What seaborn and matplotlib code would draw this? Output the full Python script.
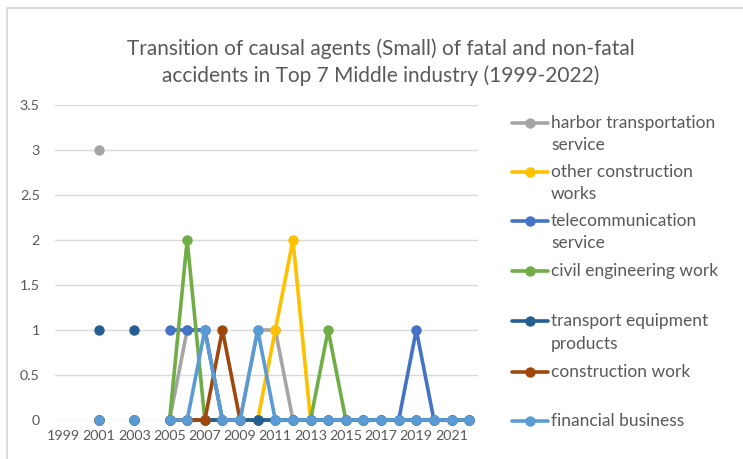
import numpy as np
import pandas as pd
import seaborn as sns
import matplotlib.pyplot as plt
from matplotlib.lines import Line2D
from matplotlib.patches import Rectangle

n = np.nan
years = list(range(1999, 2023))
#            1999 2000 2001 2002 2003 2004 2005 06 07 08 09 10 11 12 13 14 15 16 17 18 19 20 21 22
harbor    = [n, n, 3, n, 0, n, 0, 1, 1, 0, 0, 1, 1, 0, 0, 0, 0, 0, 0, 0, 0, 0, 0, 0]
other_con = [n, n, 0, n, 0, n, 0, 0, 0, 0, 0, 0, 1, 2, 0, 0, 0, 0, 0, 0, 0, 0, 0, 0]
telecom   = [n, n, 0, n, 0, n, 1, 1, 1, 0, 0, 0, 0, 0, 0, 0, 0, 0, 0, 0, 1, 0, 0, 0]
civil     = [n, n, 0, n, 0, n, 0, 2, 0, 0, 0, 0, 0, 0, 0, 1, 0, 0, 0, 0, 0, 0, 0, 0]
transport = [n, n, 1, n, 1, n, 0, 0, 0, 0, 0, 0, 0, 0, 0, 0, 0, 0, 0, 0, 0, 0, 0, 0]
constr    = [n, n, 0, n, 0, n, 0, 0, 0, 1, 0, n, n, n, n, n, n, n, n, n, n, n, n, n]
financial = [n, n, 0, n, 0, n, 0, 0, 1, 0, 0, 1, 0, 0, 0, 0, 0, 0, 0, 0, 0, 0, 0, 0]

series_names = ["harbor transportation\nservice", "other construction\nworks",
                "telecommunication\nservice", "civil engineering work",
                "transport equipment\nproducts", "construction work", "financial business"]
series_vals = [harbor, other_con, telecom, civil, transport, constr, financial]
colors = ["#A5A5A5", "#FFC000", "#4472C4", "#70AD47", "#255E91", "#9E480E", "#5B9BD5"]
tick_years = list(range(1999, 2022, 2))
y_ticks = [0, 0.5, 1, 1.5, 2, 2.5, 3, 3.5]
y_labels = ["0", "0.5", "1", "1.5", "2", "2.5", "3", "3.5"]

rows = []
for name, vals in zip(series_names, series_vals):
    seg = 0
    prev_nan = True
    for y, v in zip(years, vals):
        if np.isnan(v):
            prev_nan = True
            continue
        if prev_nan:
            seg += 1
        prev_nan = False
        rows.append(dict(series=name, year=y, value=v, seg=seg))
df = pd.DataFrame(rows)

sns.set_style("white")
plt.rcParams['font.family'] = ['Lato', 'DejaVu Sans']

fig = plt.figure(figsize=(7.43, 4.59), dpi=100)
ax = fig.add_axes([55/743, 1-420/459, (478-55)/743, (420-105)/459])

sns.lineplot(data=df, x="year", y="value", hue="series", units="seg", estimator=None,
             hue_order=series_names, palette=colors, marker="o", markersize=7.5,
             markeredgewidth=0, linewidth=2.6, legend=False, ax=ax, clip_on=False)

ax.set_xlim(1998.5, 2022.5)
ax.set_ylim(0, 3.5)
ax.set_yticks(y_ticks)
ax.set_yticklabels(y_labels)
ax.set_xticks(tick_years)
ax.set_xticklabels([str(t) for t in tick_years])
ax.tick_params(axis="both", colors="#595959", labelsize=10.3, length=0)
ax.tick_params(axis="x", pad=7)
ax.tick_params(axis="y", pad=11)
ax.yaxis.grid(True, color="#D9D9D9", linewidth=1)
ax.set_axisbelow(True)
for s in ["top", "right", "left", "bottom"]:
    ax.spines[s].set_visible(False)
ax.set_xlabel("")
ax.set_ylabel("")

fig.text(381/743, 1-62/459, "Transition of causal agents (Small) of fatal and non-fatal\naccidents in Top 7 Middle industry (1999-2022)",
         ha="center", va="center", fontsize=15, color="#595959", linespacing=1.4)

# chart border (only top/left visible in crop)
fig.add_artist(Rectangle((7.5/743, -0.1), 1.2, 1 - 7.5/459 + 0.1, transform=fig.transFigure,
                         fill=False, edgecolor="#D9D9D9", linewidth=1.3))

# legend (Excel style)
ys = [123, 172, 221, 271, 321, 372, 421]
for name, c, y in zip(series_names, colors, ys):
    fy = 1 - y/459
    fig.add_artist(Line2D([512/743, 548/743], [fy, fy], color=c, linewidth=2.6,
                          transform=fig.transFigure))
    fig.add_artist(Line2D([530/743], [fy], color=c, marker="o", markersize=7.5,
                          markeredgewidth=0, transform=fig.transFigure))
    fig.text(551/743, fy + 8/459, name, ha="left", va="top", fontsize=12.5,
             color="#595959", linespacing=1.5)

fig.savefig("out.png", dpi=100)
